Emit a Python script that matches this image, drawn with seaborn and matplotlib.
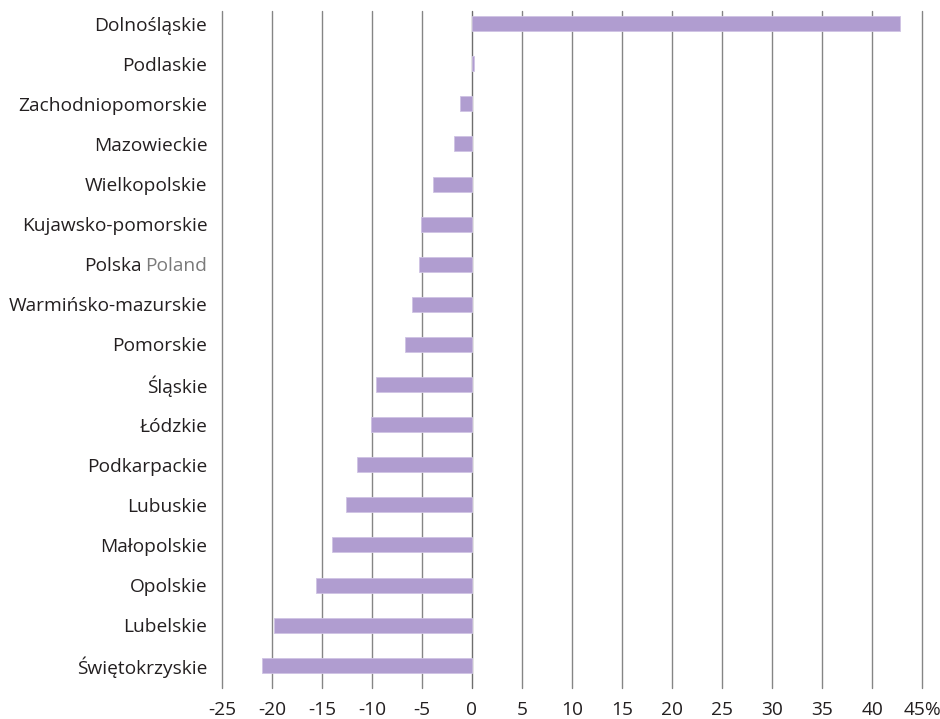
import matplotlib
matplotlib.use("Agg")
import matplotlib.pyplot as plt
import seaborn as sns
import pandas as pd

regions = ["Dolnośląskie", "Podlaskie", "Zachodniopomorskie", "Mazowieckie",
           "Wielkopolskie", "Kujawsko-pomorskie", "Polska Poland",
           "Warmińsko-mazurskie", "Pomorskie", "Śląskie", "Łódzkie",
           "Podkarpackie", "Lubuskie", "Małopolskie", "Opolskie",
           "Lubelskie", "Świętokrzyskie"]
values = [42.8, 0.25, -1.2, -1.75, -3.85, -5.1, -5.3, -6.0, -6.7, -9.55,
          -10.05, -11.5, -12.6, -14.0, -15.6, -19.8, -21.0]
xticks = [-25, -20, -15, -10, -5, 0, 5, 10, 15, 20, 25, 30, 35, 40, 45]
xticklabels = ["-25", "-20", "-15", "-10", "-5", "0", "5", "10", "15", "20",
               "25", "30", "35", "40", "45%"]

sns.set_theme(style="white")
plt.rcParams['font.family'] = ['Open Sans', 'DejaVu Sans']

df = pd.DataFrame({"region": regions, "value": values})

fig = plt.figure(figsize=(9.4, 7.19), dpi=100)
ax = fig.add_axes([0.236, 0.043, 0.745, 0.942])

for x in xticks:
    ax.axvline(x, color="#858585" if x != 0 else "#6e6e6e", lw=1.0,
               zorder=0, clip_on=False)

sns.barplot(data=df, x="value", y="region", orient="h", color="#b09dd0",
            saturation=1, width=0.375, ax=ax, zorder=2, linewidth=0.6,
            edgecolor="#cfc3e4")

ax.set_xlim(-25.0, 45.0)
ax.set_ylim(16.57, -0.32)
ax.set_xticks(xticks)
ax.set_xticklabels(xticklabels)
ax.set_xlabel("")
ax.set_ylabel("")
for s in ax.spines.values():
    s.set_visible(False)
fs = 13.8
ax.tick_params(axis="x", length=0, pad=9, labelsize=fs, colors="#231f20")
ax.tick_params(axis="y", length=0, pad=10.5, labelsize=fs, colors="#231f20")

labels = list(regions)
idx = labels.index("Polska Poland")
labels[idx] = "Poland"
ax.set_yticklabels(labels)
tl = ax.get_yticklabels()[idx]
tl.set_color("#7a7a7a")

fig.canvas.draw()
bb = tl.get_window_extent()
inv = fig.transFigure.inverted()
x0, _ = inv.transform((bb.x0, bb.y0))
ytick_y = ax.transData.transform((0, idx))[1]
_, yc = inv.transform((0, ytick_y))
fig.text(x0 - 0.004, yc, "Polska", ha="right", va="center_baseline",
         fontsize=fs, color="#231f20")

fig.savefig("out.png", dpi=100)
